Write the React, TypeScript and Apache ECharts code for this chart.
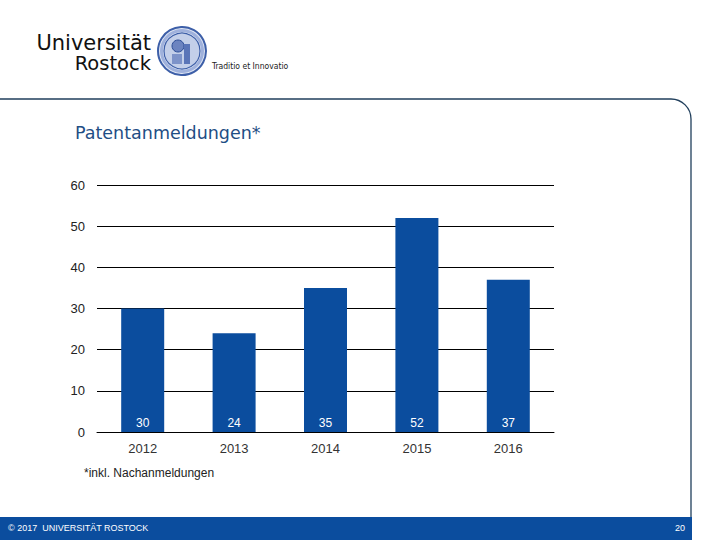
import { useEffect, useRef } from 'react';
import * as echarts from 'echarts';

const years = ['2012', '2013', '2014', '2015', '2016'];
const patentCounts = [30, 24, 35, 52, 37];
const yTicks = { min: 0, max: 60, interval: 10 };

const BLUE = '#0b4d9e';
const FRAME = '#213f5c';

export default function App() {
  const chartRef = useRef<HTMLDivElement>(null);

  useEffect(() => {
    if (!chartRef.current) return;
    const chart = echarts.init(chartRef.current, undefined, { renderer: 'svg' });

    const option = {
      animation: false,
      backgroundColor: '#ffffff',
      textStyle: { fontFamily: 'Liberation Sans, Arial, sans-serif' },
      title: {
        text: 'Patentanmeldungen*',
        left: 70,
        top: 119,
        textStyle: {
          color: '#1f4e85',
          fontSize: 17.5,
          fontWeight: 'normal',
          fontFamily: 'DejaVu Sans, sans-serif',
        },
      },
      grid: { left: 97, right: 166, top: 185, bottom: 108, containLabel: false },
      xAxis: {
        type: 'category',
        data: years,
        axisLine: { show: true, lineStyle: { color: '#000', width: 1 } },
        axisTick: { show: false },
        axisLabel: { color: '#333', fontSize: 13, margin: 10 },
      },
      yAxis: {
        type: 'value',
        min: yTicks.min,
        max: yTicks.max,
        interval: yTicks.interval,
        axisLine: { show: false },
        axisTick: { show: false },
        axisLabel: { color: '#222', fontSize: 13, margin: 12 },
        splitLine: { lineStyle: { color: '#000', width: 1 } },
      },
      series: [
        {
          type: 'bar',
          data: patentCounts,
          barWidth: 43,
          itemStyle: { color: BLUE },
          label: {
            show: true,
            position: 'insideBottom',
            distance: 3,
            color: '#ffffff',
            fontSize: 12,
          },
        },
      ],
      graphic: [
        // frame with rounded corner
        {
          type: 'rect',
          shape: { x: -10, y: 99, width: 701, height: 470, r: [0, 20, 0, 0] },
          style: { fill: 'none', stroke: FRAME, lineWidth: 1.3 },
          z: 1,
        },
        // footer band
        {
          type: 'rect',
          shape: { x: 0, y: 517, width: 692, height: 23 },
          style: { fill: BLUE },
          z: 2,
        },
        {
          type: 'text',
          x: 8,
          y: 528,
          style: {
            text: '© 2017  UNIVERSITÄT ROSTOCK',
            fill: '#ffffff',
            fontSize: 9,
            fontFamily: 'Liberation Sans, sans-serif',
            verticalAlign: 'middle',
          },
          z: 3,
        },
        {
          type: 'text',
          x: 685,
          y: 528,
          style: {
            text: '20',
            fill: '#ffffff',
            fontSize: 9,
            align: 'right',
            verticalAlign: 'middle',
          },
          z: 3,
        },
        // footnote
        {
          type: 'text',
          x: 84,
          y: 473,
          style: {
            text: '*inkl. Nachanmeldungen',
            fill: '#222',
            fontSize: 12,
            fontFamily: 'Liberation Sans, Arial, sans-serif',
            verticalAlign: 'middle',
          },
        },
        // logo wordmark
        {
          type: 'text',
          x: 151,
          y: 43,
          style: {
            text: 'Universität',
            fill: '#111',
            fontSize: 21,
            lineHeight: 18,
            fontFamily: 'DejaVu Sans, sans-serif',
            align: 'right',
            verticalAlign: 'middle',
          },
        },
        {
          type: 'text',
          x: 151,
          y: 63,
          style: {
            text: 'Rostock',
            fill: '#111',
            fontSize: 19.5,
            lineHeight: 17,
            fontFamily: 'DejaVu Sans, sans-serif',
            align: 'right',
            verticalAlign: 'middle',
          },
        },
        // seal
        {
          type: 'circle',
          shape: { cx: 182, cy: 51, r: 24 },
          style: { fill: '#dfe6f4', stroke: '#3d5fa8', lineWidth: 2 },
        },
        {
          type: 'circle',
          shape: { cx: 182, cy: 51, r: 18 },
          style: { fill: '#c3cfe9', stroke: '#3d5fa8', lineWidth: 1.2 },
        },
        {
          type: 'ring',
          shape: { cx: 182, cy: 51, r: 22, r0: 19 },
          style: { fill: '#9fb1dc' },
        },
        {
          type: 'circle',
          shape: { cx: 178, cy: 46, r: 6 },
          style: { fill: '#6c84c0', stroke: '#2c4d97', lineWidth: 1 },
        },
        {
          type: 'rect',
          shape: { x: 184, y: 44, width: 6, height: 20 },
          style: { fill: '#5a75b8' },
        },
        {
          type: 'rect',
          shape: { x: 172, y: 54, width: 10, height: 10 },
          style: { fill: '#7d93c9' },
        },
        {
          type: 'text',
          x: 212,
          y: 66,
          style: {
            text: 'Traditio et Innovatio',
            fill: '#222',
            fontSize: 8.5,
            fontFamily: 'Liberation Sans Narrow, DejaVu Sans Condensed, sans-serif',
            verticalAlign: 'middle',
          },
        },
      ],
    };

    chart.setOption(option);

    return () => {
      chart.dispose();
    };
  }, []);

  return (
    <div
      ref={chartRef}
      style={{ position: 'fixed', left: 0, top: 0, width: '720px', height: '540px' }}
    />
  );
}
